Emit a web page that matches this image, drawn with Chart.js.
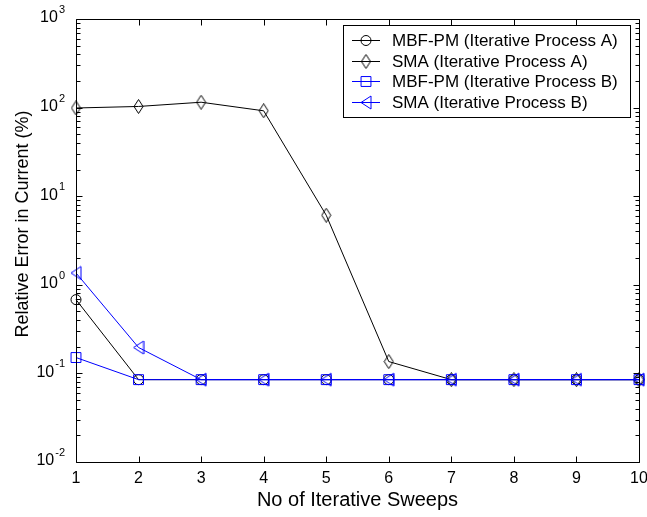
<!DOCTYPE html>
<html>
<head>
<meta charset="utf-8">
<title>Relative error vs sweeps</title>
<script src="https://cdn.jsdelivr.net/npm/chart.js@4.4.0/dist/chart.umd.min.js"></script>
<style>
  html, body { margin: 0; padding: 0; background: #fff; }
  #wrap { width: 647px; height: 517px; }
</style>
</head>
<body>
<div id="wrap"><canvas id="myChart"></canvas></div>
<script>
// sweep number on the x axis
var sweeps = [1, 2, 3, 4, 5, 6, 7, 8, 9, 10];

// relative error in current (%), one array per method
var mbfA = [0.68, 0.085, 0.085, 0.085, 0.085, 0.085, 0.085, 0.085, 0.085, 0.085];
var smaA = [99, 103, 115, 92, 6.1, 0.136, 0.085, 0.085, 0.085, 0.085];
var mbfB = [0.151, 0.085, 0.085, 0.085, 0.085, 0.085, 0.085, 0.085, 0.085, 0.085];
var smaB = [1.36, 0.196, 0.085, 0.085, 0.085, 0.085, 0.085, 0.085, 0.085, 0.085];

var seriesNames = [
  'MBF-PM (Iterative Process A)',
  'SMA (Iterative Process A)',
  'MBF-PM (Iterative Process B)',
  'SMA (Iterative Process B)'
];

// decades on the y axis and their exponents
var yTicks = [0.01, 0.1, 1, 10, 100, 1000];
var yExps = ['-2', '-1', '0', '1', '2', '3'];

var yTitle = 'Relative Error in Current (%)';

var BLUE = '#0000ff';
var FONT = '"Liberation Sans", Arial, sans-serif';

// open diamond and left triangle markers
function makeMarker(kind, color) {
  var c = document.createElement('canvas');
  var w = kind === 'diamond' ? 11 : 12;
  var h = 15;
  c.width = w; c.height = h;
  var g = c.getContext('2d');
  g.strokeStyle = color;
  g.lineWidth = 1;
  g.beginPath();
  if (kind === 'diamond') {
    g.moveTo(5.5, 0.5);
    g.lineTo(10, 7.5);
    g.lineTo(5.5, 14.5);
    g.lineTo(1, 7.5);
  } else {
    g.moveTo(1, 7.5);
    g.lineTo(11, 1);
    g.lineTo(11, 14);
  }
  g.closePath();
  g.stroke();
  return c;
}

var diamond = makeMarker('diamond', '#000');
var triLeft = makeMarker('triangle', BLUE);

function pts(arr) {
  return sweeps.map(function (s, i) { return { x: s, y: arr[i] }; });
}

var series = [
  { data: mbfA, color: '#000', style: 'circle', radius: 5, order: 3 },
  { data: smaA, color: '#000', style: diamond, radius: 6, order: 2 },
  { data: mbfB, color: BLUE, style: 'rect', radius: 7, order: 1 },
  { data: smaB, color: BLUE, style: triLeft, radius: 6, order: 0 }
];

var datasets = series.map(function (s, i) {
  return {
    label: seriesNames[i],
    data: pts(s.data),
    borderColor: s.color,
    backgroundColor: 'rgba(0,0,0,0)',
    borderWidth: 1,
    pointStyle: s.style,
    pointRadius: s.radius,
    pointBorderWidth: 1,
    pointBorderColor: s.color,
    pointBackgroundColor: 'rgba(0,0,0,0)',
    order: s.order,
    tension: 0,
    clip: false
  };
});

// box, inward ticks, superscript y labels, y title and legend
var matlabAxes = {
  id: 'matlabAxes',
  beforeDraw: function (chart) {
    var ctx = chart.ctx;
    ctx.save();
    ctx.fillStyle = '#fff';
    ctx.fillRect(0, 0, chart.width, chart.height);
    ctx.restore();
  },
  afterDraw: function (chart) {
    var ctx = chart.ctx;
    var a = chart.chartArea;
    var xs = chart.scales.x, ys = chart.scales.y;
    var L = Math.round(a.left) + 0.5, R = Math.round(a.right) + 0.5;
    var T = Math.round(a.top) + 0.5, B = Math.round(a.bottom) + 0.5;
    ctx.save();
    ctx.strokeStyle = '#000';
    ctx.lineWidth = 1;
    ctx.beginPath();
    ctx.rect(L, T, R - L, B - T);
    // x ticks, top and bottom
    sweeps.forEach(function (s) {
      var px = Math.round(xs.getPixelForValue(s)) + 0.5;
      ctx.moveTo(px, B); ctx.lineTo(px, B - 6);
      ctx.moveTo(px, T); ctx.lineTo(px, T + 6);
    });
    // y ticks, major and minor, both sides
    for (var d = 0; d < yTicks.length; d++) {
      var base = yTicks[d];
      for (var m = 1; m <= 9; m++) {
        var v = base * m;
        if (v > yTicks[yTicks.length - 1]) break;
        var py = Math.round(ys.getPixelForValue(v)) + 0.5;
        var len = m === 1 ? 6 : 4;
        ctx.moveTo(L, py); ctx.lineTo(L + len, py);
        ctx.moveTo(R, py); ctx.lineTo(R - len, py);
      }
    }
    ctx.stroke();

    // y labels as 10 with a raised exponent
    ctx.fillStyle = '#000';
    ctx.textBaseline = 'middle';
    yTicks.forEach(function (v, i) {
      var py = ys.getPixelForValue(v);
      var ex = yExps[i];
      ctx.font = '11px ' + FONT;
      var ew = ctx.measureText(ex).width;
      var right = a.left - 11;
      ctx.textAlign = 'left';
      ctx.fillText(ex, right - ew, py - 9);
      ctx.font = '16px ' + FONT;
      ctx.textAlign = 'right';
      ctx.fillText('10', right - ew - 1, py - 1);
    });

    // y title, rotated
    ctx.save();
    ctx.translate(23, 224);
    ctx.rotate(-Math.PI / 2);
    ctx.font = '18px ' + FONT;
    ctx.textAlign = 'center';
    ctx.textBaseline = 'middle';
    ctx.fillText(yTitle, 0, 0);
    ctx.restore();

    // legend
    var lx = 343.5, ly = 25.5, lw = 287, lh = 92;
    ctx.fillStyle = '#fff';
    ctx.fillRect(lx, ly, lw, lh);
    ctx.strokeStyle = '#000';
    ctx.strokeRect(lx, ly, lw, lh);
    ctx.font = '17px ' + FONT;
    ctx.textAlign = 'left';
    ctx.textBaseline = 'middle';
    chart.data.datasets.forEach(function (ds, i) {
      var ry = Math.round(40 + i * 20.7) + 0.5;
      ctx.strokeStyle = ds.borderColor;
      ctx.beginPath();
      ctx.moveTo(352, ry); ctx.lineTo(380, ry);
      ctx.stroke();
      ctx.fillStyle = 'rgba(0,0,0,0)';
      Chart.helpers.drawPoint(ctx, {
        pointStyle: ds.pointStyle,
        radius: ds.pointRadius,
        borderWidth: 1,
        rotation: 0
      }, 366, ry);
      ctx.fillStyle = '#000';
      ctx.fillText(ds.label, 392, ry + 1);
    });
    ctx.restore();
  }
};

var ctx = document.getElementById('myChart').getContext('2d');
var chart = new Chart(ctx, {
  type: 'line',
  data: { datasets: datasets },
  options: {
    responsive: true,
    maintainAspectRatio: false,
    animation: false,
    layout: { padding: { top: 19, right: 7, left: 0, bottom: 0 } },
    plugins: {
      legend: { display: false },
      tooltip: { enabled: false }
    },
    scales: {
      x: {
        type: 'linear',
        min: 1,
        max: 10,
        afterFit: function (s) {
          s.height = 55;
          s.paddingLeft = 0;
          s.paddingRight = 0;
        },
        grid: { display: false, drawTicks: false },
        border: { display: false },
        ticks: {
          stepSize: 1,
          padding: 7,
          color: '#000',
          font: { family: FONT, size: 16 }
        },
        title: {
          display: true,
          text: 'No of Iterative Sweeps',
          color: '#000',
          font: { family: FONT, size: 20 },
          padding: { top: 0, bottom: 5 }
        }
      },
      y: {
        type: 'logarithmic',
        min: 0.01,
        max: 1000,
        afterFit: function (s) { s.width = 76; },
        grid: { display: false, drawTicks: false },
        border: { display: false },
        ticks: { display: false },
        title: { display: false }
      }
    }
  },
  plugins: [matlabAxes]
});
</script>
</body>
</html>
